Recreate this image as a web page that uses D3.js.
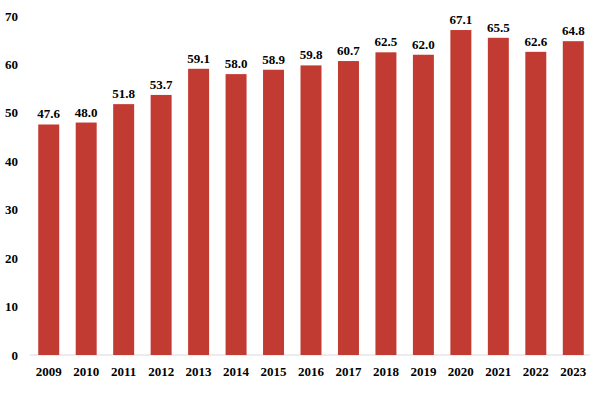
<!DOCTYPE html>
<html><head><meta charset="utf-8">
<script src="https://cdn.jsdelivr.net/npm/d3@7"></script>
<style>body{margin:0;background:#fff}</style>
</head><body><div id="chart"></div>
<script>
const years = ["2009","2010","2011","2012","2013","2014","2015","2016","2017","2018","2019","2020","2021","2022","2023"];
const values = [47.6,48.0,51.8,53.7,59.1,58.0,58.9,59.8,60.7,62.5,62.0,67.1,65.5,62.6,64.8];
const yTicks = [0,10,20,30,40,50,60,70];

const W = 600, H = 400;
const svg = d3.select("#chart").append("svg").attr("width", W).attr("height", H)
    .style("font-family", "'Liberation Serif', 'Times New Roman', serif")
    .style("font-weight", "bold");

const x = d3.scaleBand().domain(years).range([24, 598]).paddingInner(0.44).paddingOuter(0.38);
const y = d3.scaleLinear().domain([0, 70]).range([355, 16]);

// baseline
svg.append("line").attr("x1", 30).attr("x2", 590)
    .attr("y1", y(0)).attr("y2", y(0)).attr("stroke", "#d9d9d9").attr("stroke-width", 1);

// y tick labels
svg.append("g").selectAll("text").data(yTicks).join("text")
    .attr("x", 18).attr("y", d => y(d)).attr("dy", "0.35em")
    .attr("text-anchor", "end").attr("font-size", 13).attr("fill", "#000")
    .text(d => d);

// bars
svg.append("g").selectAll("rect").data(values).join("rect")
    .attr("x", (d, i) => x(years[i]))
    .attr("y", d => y(d))
    .attr("width", x.bandwidth())
    .attr("height", d => y(0) - y(d))
    .attr("fill", "#c23b33");

// value labels
svg.append("g").selectAll("text").data(values).join("text")
    .attr("x", (d, i) => x(years[i]) + x.bandwidth() / 2)
    .attr("y", d => y(d) - 6)
    .attr("text-anchor", "middle").attr("font-size", 13).attr("fill", "#000")
    .text(d => d.toFixed(1));

// x labels
svg.append("g").selectAll("text").data(years).join("text")
    .attr("x", d => x(d) + x.bandwidth() / 2)
    .attr("y", 376)
    .attr("text-anchor", "middle").attr("font-size", 13).attr("fill", "#000")
    .text(d => d);
</script></body></html>
